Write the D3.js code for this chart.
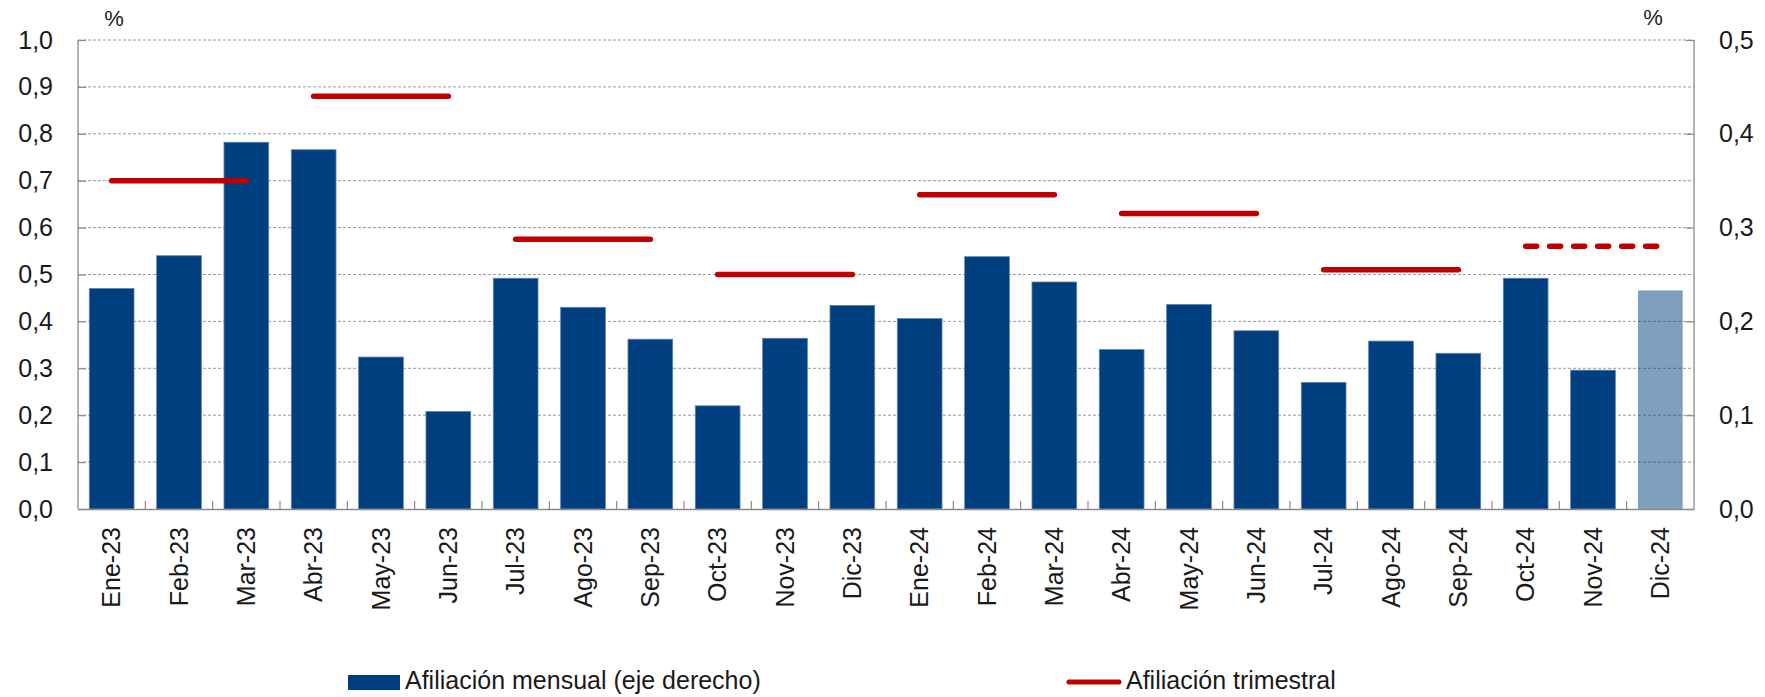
<!DOCTYPE html>
<html>
<head>
<meta charset="utf-8">
<script src="https://cdn.jsdelivr.net/npm/d3@7"></script>
<style>
  html, body { margin: 0; padding: 0; background: #fff; }
  svg { display: block; font-family: "Liberation Sans", Arial, Helvetica, sans-serif; }
</style>
</head>
<body>
<svg id="chart" width="1765" height="697"></svg>
<script>
// Monthly labels
const months = ["Ene-23","Feb-23","Mar-23","Abr-23","May-23","Jun-23","Jul-23","Ago-23","Sep-23","Oct-23","Nov-23","Dic-23",
                "Ene-24","Feb-24","Mar-24","Abr-24","May-24","Jun-24","Jul-24","Ago-24","Sep-24","Oct-24","Nov-24","Dic-24"];
// Monthly affiliation growth (right axis, %)
const monthly = [0.235,0.270,0.391,0.383,0.162,0.104,0.246,0.215,0.181,0.110,0.182,0.217,
                 0.203,0.269,0.242,0.170,0.218,0.190,0.135,0.179,0.166,0.246,0.148,0.233];
// Months whose value is an estimate (lighter bar)
const estimated = ["Dic-24"];
// Quarterly affiliation growth (left axis, %): first month, last month, value
const quarterStart = ["Ene-23","Abr-23","Jul-23","Oct-23","Ene-24","Abr-24","Jul-24","Oct-24"];
const quarterEnd   = ["Mar-23","Jun-23","Sep-23","Dic-23","Mar-24","Jun-24","Sep-24","Dic-24"];
const quarterly    = [0.70,0.88,0.575,0.50,0.67,0.63,0.51,0.56];
const quarterProjected = [false,false,false,false,false,false,false,true];
// Axis ticks
const leftTicks  = [0,0.1,0.2,0.3,0.4,0.5,0.6,0.7,0.8,0.9,1.0];
const rightTicks = [0,0.1,0.2,0.3,0.4,0.5];
const legendLabels = ["Afiliación mensual (eje derecho)", "Afiliación trimestral"];

const BAR = "#003F7F", RED = "#C00000", AXIS = "#8a8a8a", GRID = "#9a9a9a", TEXT = "#1a1a1a";
const fmt = d3.format(".1f");
const comma = v => fmt(v).replace(".", ",");

const svg = d3.select("#chart");
const plotL = 78, plotR = 1694, plotT = 40, plotB = 509;

const x = d3.scaleBand().domain(months).range([plotL, plotR]).paddingInner(0.336).paddingOuter(0.168);
const xStep = d3.scaleBand().domain(months).range([plotL, plotR]);
const yL = d3.scaleLinear().domain([0, 1.0]).range([plotB, plotT]);
const yR = d3.scaleLinear().domain([0, 0.5]).range([plotB, plotT]);

// Horizontal dashed grid
svg.append("g").selectAll("line").data(leftTicks.filter(d => d > 0)).join("line")
  .attr("x1", plotL).attr("x2", plotR)
  .attr("y1", d => yL(d)).attr("y2", d => yL(d))
  .attr("stroke", GRID).attr("stroke-width", 1).attr("stroke-dasharray", "3,2");

// Monthly bars
svg.append("g").selectAll("rect").data(months).join("rect")
  .attr("x", d => x(d)).attr("width", x.bandwidth())
  .attr("y", (d, i) => yR(monthly[i]))
  .attr("height", (d, i) => yR(0) - yR(monthly[i]))
  .attr("fill", BAR)
  .attr("fill-opacity", d => estimated.includes(d) ? 0.5 : 1)
  .attr("stroke", "#5f82ab").attr("stroke-width", 0.8)
  .attr("stroke-opacity", d => estimated.includes(d) ? 0 : 1);

// Quarterly segments
const center = m => xStep(m) + xStep.bandwidth() / 2;
svg.append("g").selectAll("line").data(quarterly).join("line")
  .attr("x1", (d, i) => center(quarterStart[i]))
  .attr("x2", (d, i) => center(quarterEnd[i]))
  .attr("y1", d => yL(d)).attr("y2", d => yL(d))
  .attr("stroke", RED).attr("stroke-width", 5.5).attr("stroke-linecap", "round")
  .attr("stroke-dasharray", (d, i) => quarterProjected[i] ? "11,13" : null);

// Axes
const leftAxis = d3.axisLeft(yL).tickValues(leftTicks).tickFormat(comma).tickSize(-8).tickPadding(26);
const gl = svg.append("g").attr("transform", `translate(${plotL},0)`).call(leftAxis);
const rightAxis = d3.axisRight(yR).tickValues(rightTicks).tickFormat(comma).tickSize(-8).tickPadding(26);
const gr = svg.append("g").attr("transform", `translate(${plotR},0)`).call(rightAxis);
const bottomAxis = d3.axisBottom(xStep).tickSize(0).tickPadding(0);
const gb = svg.append("g").attr("transform", `translate(0,${plotB})`).call(bottomAxis);

[gl, gr, gb].forEach(g => {
  g.select(".domain").attr("stroke", AXIS).attr("stroke-width", 1.3);
  g.selectAll(".tick line").attr("stroke", AXIS).attr("stroke-width", 1.2);
  g.selectAll("text").attr("font-size", 25).attr("fill", TEXT)
    .attr("font-family", "'Liberation Sans', Arial, Helvetica, sans-serif");
});
gl.select(".domain").attr("d", `M0,${plotT}V${plotB}`);
gr.select(".domain").attr("d", `M0,${plotT}V${plotB}`);
gl.selectAll(".tick text").attr("x", -25);
gr.selectAll(".tick text").attr("x", 25);

// Category boundary ticks on the bottom axis (pointing up)
svg.append("g").selectAll("line").data(months.slice(1)).join("line")
  .attr("x1", d => xStep(d)).attr("x2", d => xStep(d))
  .attr("y1", plotB).attr("y2", plotB - 8)
  .attr("stroke", AXIS).attr("stroke-width", 1.2);

// Rotated month labels
gb.selectAll(".tick text")
  .attr("transform", "rotate(-90)")
  .attr("text-anchor", "end")
  .attr("x", -18).attr("y", 0).attr("dy", "0.35em");

// Unit labels
svg.append("text").attr("x", 114).attr("y", 26).attr("text-anchor", "middle")
  .attr("font-size", 22).attr("fill", TEXT).text("%");
svg.append("text").attr("x", 1653).attr("y", 25).attr("text-anchor", "middle")
  .attr("font-size", 22).attr("fill", TEXT).text("%");

// Legend
const lg = svg.append("g");
lg.append("rect").attr("x", 348).attr("y", 675).attr("width", 52).attr("height", 15).attr("fill", BAR);
lg.append("text").attr("x", 405).attr("y", 689).attr("font-size", 25).attr("fill", TEXT).text(legendLabels[0]);
lg.append("line").attr("x1", 1069).attr("x2", 1119).attr("y1", 682).attr("y2", 682)
  .attr("stroke", RED).attr("stroke-width", 5).attr("stroke-linecap", "round");
lg.append("text").attr("x", 1126).attr("y", 689).attr("font-size", 25).attr("fill", TEXT).text(legendLabels[1]);
</script>
</body>
</html>
